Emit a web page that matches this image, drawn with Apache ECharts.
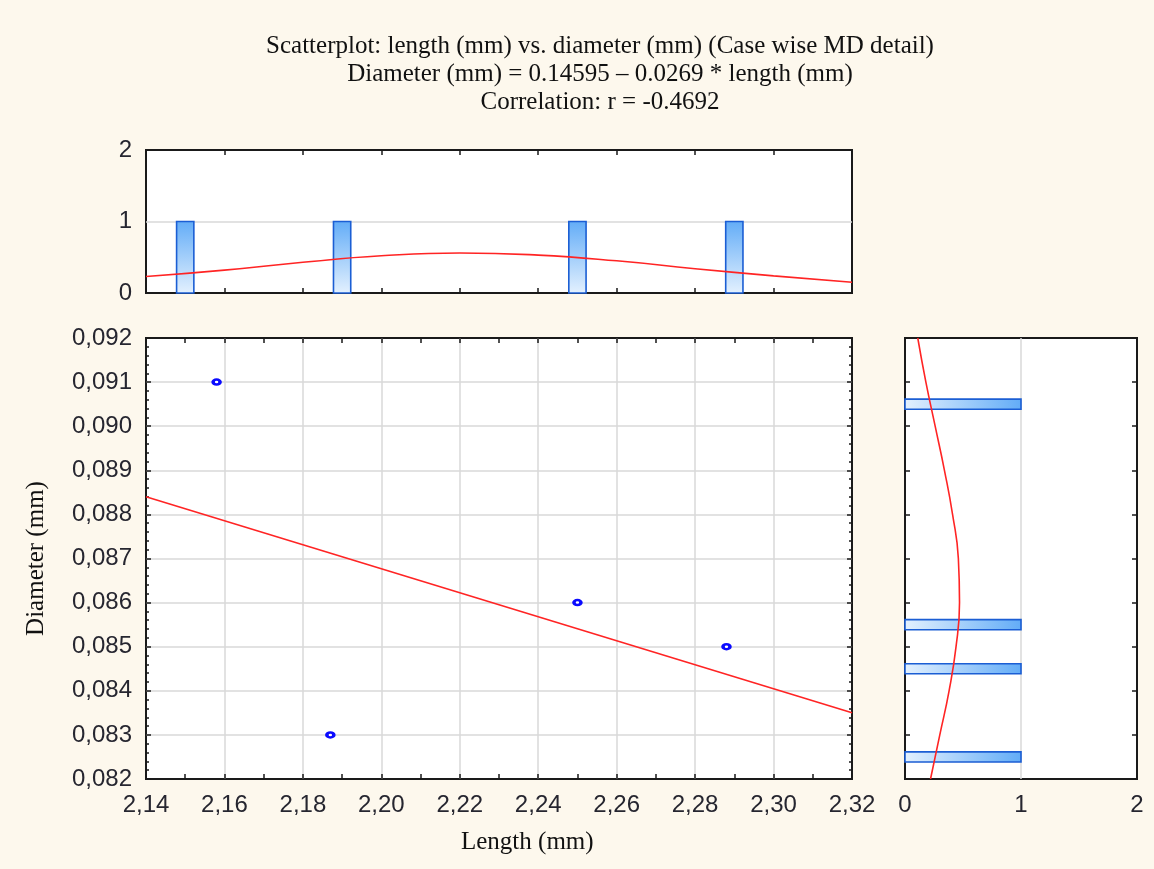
<!DOCTYPE html>
<html>

<head>
  <meta charset="utf-8">
  <title>Scatterplot: length vs. diameter</title>
  <script src="https://cdn.jsdelivr.net/npm/echarts@6/dist/echarts.min.js"></script>
  <style>
    html,
    body {
      margin: 0;
      padding: 0;
      background: #fdf8ed;
    }

    #chart {
      width: 1154px;
      height: 869px;
    }
  </style>
</head>

<body>
  <div id="chart"></div>

  <script>
    // scatter points
    var lengthMM = [2.158, 2.187, 2.250, 2.288];
    var diameterMM = [0.091, 0.083, 0.086, 0.085];

    // fitted line, ends at the axis limits
    var fitLength = [2.14, 2.32];
    var fitDiameter = [0.0884, 0.0835];

    // top histogram (length)
    var lengthBins = [2.15, 2.19, 2.25, 2.29];
    var lengthCounts = [1, 1, 1, 1];
    var lengthCurveX = [2.14, 2.16, 2.18, 2.20, 2.22, 2.24, 2.26, 2.28, 2.30, 2.32];
    var lengthCurveY = [0.23, 0.32, 0.43, 0.52, 0.56, 0.53, 0.45, 0.34, 0.24, 0.15];

    // right histogram (diameter)
    var diameterBins = [0.0905, 0.0855, 0.0845, 0.0825];
    var diameterCounts = [1, 1, 1, 1];
    var diameterCurveY = [0.092, 0.091, 0.090, 0.089, 0.088, 0.087, 0.086, 0.085, 0.084, 0.083, 0.082];
    var diameterCurveX = [0.11, 0.18, 0.26, 0.34, 0.41, 0.46, 0.47, 0.44, 0.38, 0.30, 0.22];

    var titleLines = [
      'Scatterplot: length (mm) vs. diameter (mm) (Case wise MD detail)',
      'Diameter (mm) = 0.14595 \u2013 0.0269 * length (mm)',
      'Correlation: r = -0.4692'
    ];

    var LEN_BIN_W = 0.0044;
    var DIA_BIN_W = 0.00023;

    function zip(a, b) {
      return a.map(function (v, i) { return [v, b[i]]; });
    }

    var labelFont = { fontFamily: 'Liberation Sans', fontSize: 24, color: '#262630' };
    var serif = 'Liberation Serif';
    var border = '#1a1a1a';
    var gridGray = '#d9d9d9';

    function commaFmt(d) {
      return function (v) { return v.toFixed(d).replace('.', ','); };
    }

    function barItem(horizontal, w) {
      return function (params, api) {
        var p1, p2, fill;
        if (!horizontal) {
          var c = api.value(0), n = api.value(1);
          p1 = api.coord([c - w / 2, n]);
          p2 = api.coord([c + w / 2, 0]);
          fill = new echarts.graphic.LinearGradient(0, 0, 0, 1, [
            { offset: 0, color: '#62acf7' },
            { offset: 1, color: '#e4f1fe' }
          ]);
        } else {
          var n2 = api.value(0), c2 = api.value(1);
          p1 = api.coord([0, c2 + w / 2]);
          p2 = api.coord([n2, c2 - w / 2]);
          fill = new echarts.graphic.LinearGradient(0, 0, 1, 0, [
            { offset: 0, color: '#e4f1fe' },
            { offset: 1, color: '#62acf7' }
          ]);
        }
        return {
          type: 'rect',
          shape: { x: p1[0], y: p1[1], width: p2[0] - p1[0], height: p2[1] - p1[1] },
          style: { fill: fill, stroke: '#1b5ed4', lineWidth: 1.6 }
        };
      };
    }

    var chart = echarts.init(document.getElementById('chart'));

    var option = {
      animation: false,
      backgroundColor: '#fdf8ed',
      title: {
        text: titleLines.join('\n'),
        left: 600,
        top: 32,
        padding: 0,
        textAlign: 'center',
        textStyle: {
          fontFamily: serif,
          fontSize: 25,
          fontWeight: 'normal',
          lineHeight: 28,
          color: '#111'
        }
      },
      graphic: [{
        type: 'text',
        left: 461,
        top: 830,
        style: { text: 'Length (mm)', font: '25px "Liberation Serif"', fill: '#111' }
      }],
      grid: [
        { left: 146, top: 338, width: 706, height: 441, show: true, backgroundColor: '#fff', borderColor: border, borderWidth: 2 },
        { left: 146, top: 150, width: 706, height: 143, show: true, backgroundColor: '#fff', borderColor: border, borderWidth: 2 },
        { left: 905, top: 338, width: 232, height: 441, show: true, backgroundColor: '#fff', borderColor: border, borderWidth: 2 }
      ],
      xAxis: [
        { // main bottom
          type: 'value', gridIndex: 0, min: 2.14, max: 2.32, interval: 0.02,
          axisLine: { show: false },
          axisTick: { show: true, inside: true, length: 5, lineStyle: { color: border, width: 1.5 } },
          minorTick: { show: true, splitNumber: 2, length: 5, lineStyle: { color: border, width: 1.5 } },
          axisLabel: Object.assign({ margin: 14, formatter: commaFmt(2) }, labelFont),
          splitLine: { show: true, showMinLine: false, showMaxLine: false, lineStyle: { color: gridGray, width: 1.5 } }
        },
        { // main top
          type: 'value', gridIndex: 0, position: 'top', min: 2.14, max: 2.32, interval: 0.02,
          axisLine: { show: false },
          axisTick: { show: true, inside: true, length: 5, lineStyle: { color: border, width: 1.5 } },
          minorTick: { show: true, splitNumber: 2, length: 5, lineStyle: { color: border, width: 1.5 } },
          axisLabel: { show: false },
          splitLine: { show: false }
        },
        { // top hist bottom
          type: 'value', gridIndex: 1, min: 2.14, max: 2.32, interval: 0.02,
          axisLine: { show: false },
          axisTick: { show: true, inside: true, length: 5, lineStyle: { color: border, width: 1.5 } },
          axisLabel: { show: false },
          splitLine: { show: false }
        },
        { // top hist top
          type: 'value', gridIndex: 1, position: 'top', min: 2.14, max: 2.32, interval: 0.02,
          axisLine: { show: false },
          axisTick: { show: true, inside: true, length: 5, lineStyle: { color: border, width: 1.5 } },
          axisLabel: { show: false },
          splitLine: { show: false }
        },
        { // right hist bottom
          type: 'value', gridIndex: 2, min: 0, max: 2, interval: 1,
          axisLine: { show: false },
          axisTick: { show: false },
          axisLabel: Object.assign({ margin: 14 }, labelFont),
          splitLine: { show: true, showMinLine: false, showMaxLine: false, lineStyle: { color: gridGray, width: 1.5 } }
        }
      ],
      yAxis: [
        { // main left
          type: 'value', gridIndex: 0, min: 0.082, max: 0.092, interval: 0.001,
          name: 'Diameter (mm)', nameLocation: 'middle', nameGap: 97,
          nameTextStyle: { fontFamily: serif, fontSize: 25, color: '#111' },
          axisLine: { show: false },
          axisTick: { show: true, inside: true, length: 5, lineStyle: { color: border, width: 1.5 } },
          minorTick: { show: true, splitNumber: 5, length: 3, lineStyle: { color: border, width: 1.5 } },
          axisLabel: Object.assign({ margin: 14, formatter: commaFmt(3) }, labelFont),
          splitLine: { show: true, showMinLine: false, showMaxLine: false, lineStyle: { color: gridGray, width: 1.5 } }
        },
        { // main right
          type: 'value', gridIndex: 0, position: 'right', min: 0.082, max: 0.092, interval: 0.001,
          axisLine: { show: false },
          axisTick: { show: true, inside: true, length: 5, lineStyle: { color: border, width: 1.5 } },
          minorTick: { show: true, splitNumber: 5, length: 3, lineStyle: { color: border, width: 1.5 } },
          axisLabel: { show: false },
          splitLine: { show: false }
        },
        { // top hist left
          type: 'value', gridIndex: 1, min: 0, max: 2, interval: 1,
          axisLine: { show: false },
          axisTick: { show: false },
          axisLabel: Object.assign({ margin: 14 }, labelFont),
          splitLine: { show: true, showMinLine: false, showMaxLine: false, lineStyle: { color: gridGray, width: 1.5 } }
        },
        { // right hist left
          type: 'value', gridIndex: 2, min: 0.082, max: 0.092, interval: 0.001,
          axisLine: { show: false },
          axisTick: { show: true, inside: true, length: 5, lineStyle: { color: border, width: 1.5 } },
          axisLabel: { show: false },
          splitLine: { show: false }
        },
        { // right hist right
          type: 'value', gridIndex: 2, position: 'right', min: 0.082, max: 0.092, interval: 0.001,
          axisLine: { show: false },
          axisTick: { show: true, inside: true, length: 5, lineStyle: { color: border, width: 1.5 } },
          axisLabel: { show: false },
          splitLine: { show: false }
        }
      ],
      series: [
        {
          type: 'line',
          xAxisIndex: 0, yAxisIndex: 0,
          data: zip(fitLength, fitDiameter),
          showSymbol: false,
          lineStyle: { color: '#ff2424', width: 1.6 },
          z: 3
        },
        {
          type: 'scatter',
          xAxisIndex: 0, yAxisIndex: 0,
          data: zip(lengthMM, diameterMM),
          symbol: 'circle',
          symbolSize: [7, 5],
          itemStyle: { color: '#ffffff', borderColor: '#0a0aff', borderWidth: 3, opacity: 1 },
          z: 4
        },
        {
          type: 'custom',
          xAxisIndex: 2, yAxisIndex: 2,
          data: zip(lengthBins, lengthCounts),
          renderItem: barItem(false, LEN_BIN_W)
        },
        {
          type: 'line',
          xAxisIndex: 2, yAxisIndex: 2,
          data: zip(lengthCurveX, lengthCurveY),
          smooth: true,
          showSymbol: false,
          lineStyle: { color: '#ff2424', width: 1.6 },
          z: 3
        },
        {
          type: 'custom',
          xAxisIndex: 4, yAxisIndex: 3,
          data: zip(diameterCounts, diameterBins),
          renderItem: barItem(true, DIA_BIN_W)
        },
        {
          type: 'line',
          xAxisIndex: 4, yAxisIndex: 3,
          data: zip(diameterCurveX, diameterCurveY),
          smooth: true,
          showSymbol: false,
          lineStyle: { color: '#ff2424', width: 1.6 },
          z: 3
        }
      ]
    };

    chart.setOption(option);
  </script>
</body>

</html>
